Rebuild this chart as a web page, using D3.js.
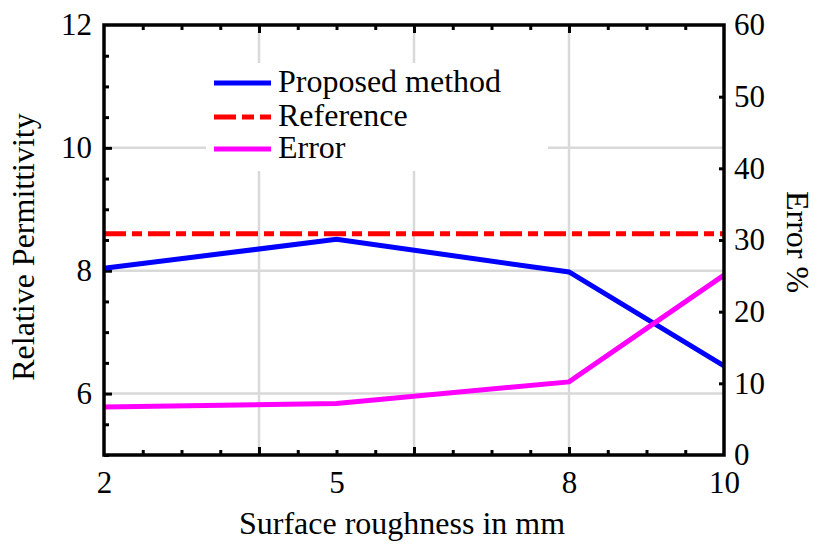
<!DOCTYPE html>
<html>
<head>
<meta charset="utf-8">
<script src="https://cdn.jsdelivr.net/npm/d3@7"></script>
<style>
  body { margin: 0; background: #fff; }
  text { font-family: "Liberation Serif", "Times New Roman", serif; fill: #000; }
</style>
</head>
<body>
<div id="chart"></div>
<script>
// data
const roughness = [2, 5, 8, 10];
const proposed = [8.04, 8.51, 7.98, 6.45];
const reference = [8.6, 8.6, 8.6, 8.6];
const errorPct = [6.7, 7.2, 10.2, 25.1];

const xTickLabels = [2, 5, 8, 10];
const leftTickLabels = [6, 8, 10, 12];
const rightTickLabels = [0, 10, 20, 30, 40, 50, 60];

const W = 817, H = 546;
const margin = { top: 25, right: 93, bottom: 91, left: 104 };
const width = W - margin.left - margin.right;
const height = H - margin.top - margin.bottom;

const svg = d3.select("#chart").append("svg")
  .attr("width", W)
  .attr("height", H);

const g = svg.append("g")
  .attr("transform", `translate(${margin.left},${margin.top})`);

const x = d3.scaleLinear().domain([2, 10]).range([0, width]);
const y = d3.scaleLinear().domain([5, 12]).range([height, 0]);
const y2 = d3.scaleLinear().domain([0, 60]).range([height, 0]);

// grid
const grid = g.append("g").attr("stroke", "#d9d9d9").attr("stroke-width", 2.5);
[4, 6, 8].forEach(v => grid.append("line")
  .attr("x1", x(v)).attr("x2", x(v)).attr("y1", 0).attr("y2", height));
[6, 8, 10].forEach(v => grid.append("line")
  .attr("x1", 0).attr("x2", width).attr("y1", y(v)).attr("y2", y(v)));

// legend background covers the grid
g.append("rect")
  .attr("x", 206 - margin.left).attr("y", 63 - margin.top)
  .attr("width", 342).attr("height", 108)
  .attr("fill", "#fff");

// tick marks (inward)
const minorX = d3.range(2, 10.01, 0.5);
const minorY = d3.range(5, 12.01, 0.5);

function ticks(axis, vals, size) {
  return axis.tickValues(vals).tickSize(size).tickFormat("");
}

g.append("g").attr("transform", `translate(0,${height})`)
  .call(ticks(d3.axisBottom(x), minorX.filter(v => v % 2 !== 0), -5));
g.append("g").attr("transform", `translate(0,${height})`)
  .call(ticks(d3.axisBottom(x), [4, 6, 8], -8));
g.append("g")
  .call(ticks(d3.axisTop(x), minorX.filter(v => v % 2 !== 0), -5));
g.append("g")
  .call(ticks(d3.axisTop(x), [4, 6, 8], -8));
g.append("g")
  .call(ticks(d3.axisLeft(y), minorY.filter(v => v % 2 !== 0), -5));
g.append("g")
  .call(ticks(d3.axisLeft(y), [6, 8, 10], -8));
g.append("g").attr("transform", `translate(${width},0)`)
  .call(ticks(d3.axisRight(y2), [10, 20, 30, 40, 50], -5));

g.selectAll(".domain").remove();
g.selectAll(".tick line").attr("stroke", "#000").attr("stroke-width", 3);

// tick labels
g.append("g").attr("transform", `translate(0,${height})`)
  .call(d3.axisBottom(x).tickValues(xTickLabels).tickSize(0).tickPadding(16).tickFormat(d3.format("d")))
  .call(a => a.select(".domain").remove())
  .selectAll("text").attr("font-size", 31);

g.append("g")
  .call(d3.axisLeft(y).tickValues(leftTickLabels).tickSize(0).tickPadding(12).tickFormat(d3.format("d")))
  .call(a => a.select(".domain").remove())
  .selectAll("text").attr("font-size", 31);

g.append("g").attr("transform", `translate(${width},0)`)
  .call(d3.axisRight(y2).tickValues(rightTickLabels).tickSize(0).tickPadding(10).tickFormat(d3.format("d")))
  .call(a => a.select(".domain").remove())
  .selectAll("text").attr("font-size", 31);

// series
const line = (ys, sy) => d3.line()
  .x((d, i) => x(roughness[i]))
  .y(d => sy(d))(ys);

g.append("path")
  .attr("d", line(reference, y))
  .attr("fill", "none")
  .attr("stroke", "#ff0000")
  .attr("stroke-width", 5)
  .attr("stroke-dasharray", "22,6,10,6");

g.append("path")
  .attr("d", line(proposed, y))
  .attr("fill", "none")
  .attr("stroke", "#0000ff")
  .attr("stroke-width", 5);

g.append("path")
  .attr("d", line(errorPct, y2))
  .attr("fill", "none")
  .attr("stroke", "#ff00ff")
  .attr("stroke-width", 5);

// frame
g.append("rect")
  .attr("width", width).attr("height", height)
  .attr("fill", "none").attr("stroke", "#000").attr("stroke-width", 3.5);

// legend
const legendItems = [
  { label: "Proposed method", color: "#0000ff", dash: null },
  { label: "Reference", color: "#ff0000", dash: "22,6,12,6" },
  { label: "Error", color: "#ff00ff", dash: null }
];
const legendYs = [83, 117, 149];
const legend = svg.append("g");
legendItems.forEach((d, i) => {
  legend.append("line")
    .attr("x1", 214).attr("x2", 271)
    .attr("y1", legendYs[i]).attr("y2", legendYs[i])
    .attr("stroke", d.color).attr("stroke-width", 5)
    .attr("stroke-dasharray", d.dash);
  legend.append("text")
    .attr("x", 278).attr("y", legendYs[i] + 9)
    .attr("font-size", 32)
    .text(d.label);
});

// axis titles
svg.append("text")
  .attr("x", 402)
  .attr("y", 534)
  .attr("text-anchor", "middle")
  .attr("font-size", 32)
  .text("Surface roughness in mm");

svg.append("text")
  .attr("transform", "translate(34,247) rotate(-90)")
  .attr("text-anchor", "middle")
  .attr("font-size", 32)
  .text("Relative Permittivity");

svg.append("text")
  .attr("transform", "translate(787,242) rotate(90)")
  .attr("text-anchor", "middle")
  .attr("font-size", 32)
  .text("Error %");
</script>
</body>
</html>
